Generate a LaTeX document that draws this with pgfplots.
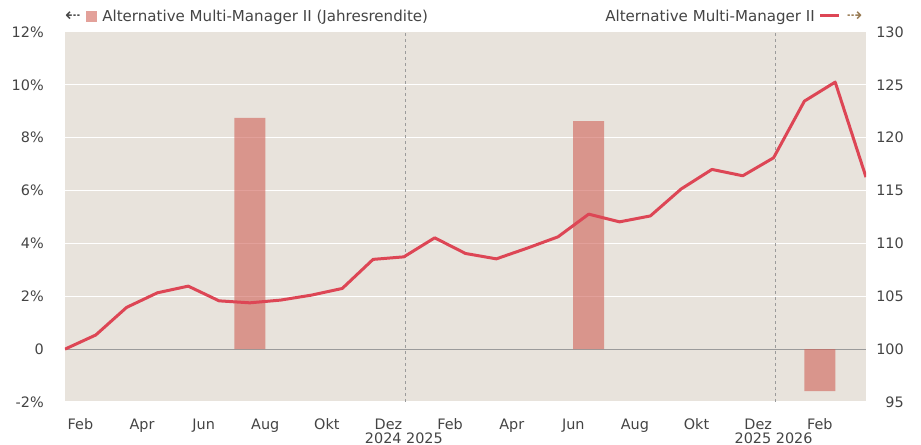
\documentclass[border=0pt]{standalone}
\usepackage{fontspec}
\setmainfont{DejaVu Sans}
\usepackage{pgfplots}
\pgfplotsset{compat=1.18}
\definecolor{bg}{RGB}{232,227,220}
\definecolor{txt}{RGB}{68,68,68}
\definecolor{barc}{RGB}{208,98,87}
\definecolor{linec}{RGB}{221,70,85}
\definecolor{zl}{RGB}{155,155,155}
\definecolor{arr}{RGB}{150,120,80}
\begin{document}
\begin{tikzpicture}[font=\fontsize{10.8pt}{12pt}\selectfont]
\useasboundingbox (-48.75pt,-32.25pt) rectangle (642pt,301.5pt);
\begin{axis}[
  scale only axis, width=600.75pt, height=277.5pt,
  xmin=0, xmax=26, ymin=-2, ymax=12, clip=false,
  axis background/.style={fill=bg},
  axis line style={draw=none},
  major tick length=0pt,
  ytick={-2,0,...,12},
  yticklabels={-2\%,0,2\%,4\%,6\%,8\%,10\%,12\%},
  ymajorgrids, grid style={white, line width=0.75pt},
  xtick={0.5,2.5,...,24.5},
  xticklabels={Feb,Apr,Jun,Aug,Okt,Dez,Feb,Apr,Jun,Aug,Okt,Dez,Feb},
  xticklabel style={anchor=base, yshift=-21pt, inner sep=0pt, text=txt},
  yticklabel style={anchor=east, xshift=-15.75pt, inner sep=0pt, text=txt},
  extra y ticks={0}, extra y tick labels={},
  extra y tick style={grid style={zl, line width=0.75pt}},
  extra x ticks={11.05,23.05}, extra x tick labels={},
  extra x tick style={xmajorgrids=true, grid style={zl, line width=0.6pt, dash pattern=on 2.25pt off 2.25pt}},
]
\addplot[ybar, bar width=23.25pt, fill=barc, fill opacity=0.6, draw=none]
  coordinates {(6,8.75) (17,8.63) (24.5,-1.59)};
\node[anchor=base, yshift=-31pt, inner sep=0pt, text=txt] at (axis cs:11,-2) {2024 2025};
\node[anchor=base, yshift=-31pt, inner sep=0pt, text=txt] at (axis cs:23,-2) {2025 2026};
\end{axis}
\begin{axis}[
  scale only axis, width=600.75pt, height=277.5pt,
  xmin=0, xmax=26, ymin=95, ymax=130,
  axis line style={draw=none},
  major tick length=0pt,
  xtick=\empty,
  ytick={95,100,...,130},
  yticklabel pos=right,
  /pgf/number format/assume math mode=true,
  yticklabel style={anchor=east, xshift=28.5pt, inner sep=0pt, text=txt},
]
\addplot[linec, line width=2.25pt, line join=round] coordinates {
(0,100.0) (1,101.34) (2,103.95) (3,105.33) (4,105.96) (5,104.57) (6,104.38)
(7,104.64) (8,105.11) (9,105.74) (10,108.49) (11,108.73) (12,110.53) (13,109.05)
(14,108.54) (15,109.55) (16,110.62) (17,112.77) (18,112.04) (19,112.6) (20,115.15)
(21,117.0) (22,116.4) (23,118.1) (24,123.46) (25,125.26) (26,116.27)};
\end{axis}
% legends
\begin{scope}[font=\fontsize{11.3pt}{13pt}\selectfont]
\node[anchor=base, inner sep=0pt, text=txt, font=\fontsize{14pt}{15pt}\selectfont] at (6pt,285.2pt) {⇠};
\fill[barc, fill opacity=0.6] (15.75pt,285.2pt) rectangle (24pt,293.25pt);
\node[anchor=base west, inner sep=0pt, text=txt] at (27.75pt,285.4pt) {Alternative Multi-Manager II (Jahresrendite)};
\node[anchor=base east, inner sep=0pt, text=txt] at (562.5pt,285.4pt) {Alternative Multi-Manager II};
\draw[linec, line width=2.25pt] (566.25pt,289.5pt) -- (580.5pt,289.5pt);
\node[anchor=base, inner sep=0pt, text=arr, font=\fontsize{14pt}{15pt}\selectfont] at (592pt,285.2pt) {⇢};
\end{scope}
\end{tikzpicture}
\end{document}
